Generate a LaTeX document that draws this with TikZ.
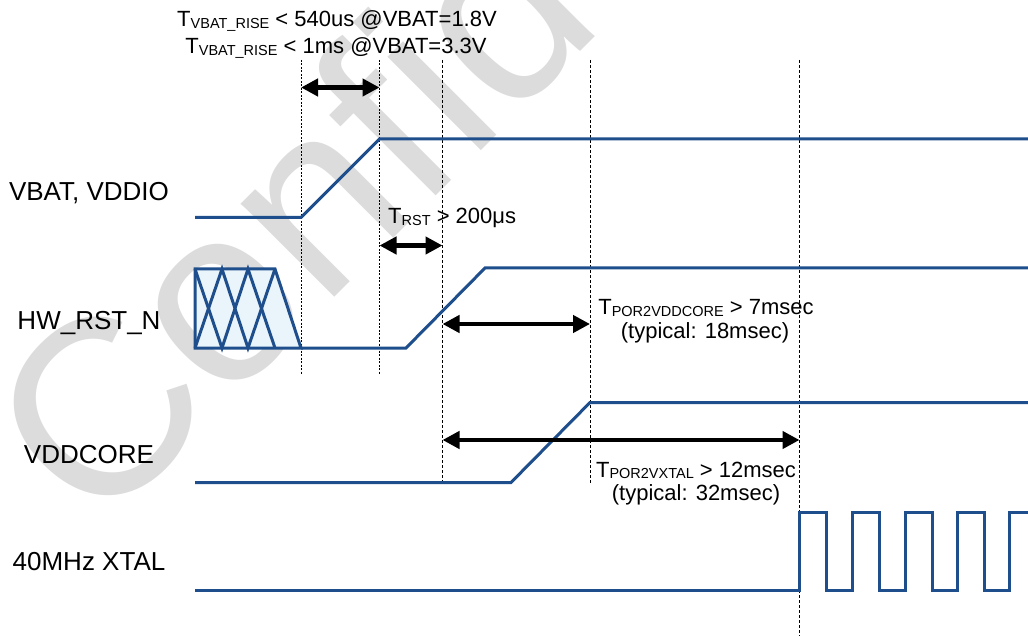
\documentclass[tikz,border=0pt]{standalone}
\usepackage{fontspec}
\setmainfont{Liberation Sans}
\usetikzlibrary{arrows.meta}
\definecolor{sig}{RGB}{31,78,140}
\definecolor{wm}{RGB}{220,220,220}
\definecolor{hatchfill}{RGB}{234,245,251}
\newcommand\subs[1]{\raisebox{-1.5pt}{\fontsize{14.5}{16}\selectfont #1}}
\begin{document}
\begin{tikzpicture}[x=1pt,y=-1pt,
  sigline/.style={draw=sig,line width=3pt,line join=miter},
  guide/.style={draw=black,line width=0.9pt,dash pattern=on 3pt off 2pt},
  fineguide/.style={draw=black,line width=0.7pt,dash pattern=on 2pt off 1.5pt},
  dur/.style={line width=4.5pt,{Triangle[length=17pt,width=17pt]}-{Triangle[length=17pt,width=17pt]}},
  lbl/.style={font=\fontsize{26}{30}\selectfont,anchor=base,inner sep=0pt},
  tim/.style={font=\fontsize{22}{26}\selectfont,anchor=base,inner sep=0pt},
  wmtext/.style={text=wm,font=\fontsize{250}{250}\selectfont,rotate=45,anchor=base west,inner sep=0pt}]
\useasboundingbox (0,0) rectangle (1028,636);
\begin{scope}
\clip (0,0) rectangle (1028,636);
\node[wmtext] (wmark) at (96,536) {Confidential};
\end{scope}

% guide lines
\coordinate (g1t) at (301,60);   \coordinate (g1b) at (301,375);
\coordinate (g2t) at (379.5,60); \coordinate (g2b) at (379.5,375);
\coordinate (g3t) at (442.5,60); \coordinate (g3b) at (442.5,483);
\coordinate (g4t) at (590,60);   \coordinate (g4b) at (590,483);
\coordinate (g5t) at (799.5,60); \coordinate (g5b) at (799.5,636);
\draw[fineguide] (g1t) -- (g1b);
\draw[fineguide] (g2t) -- (g2b);
\draw[guide] (g3t) -- (g3b);
\draw[guide] (g4t) -- (g4b);
\draw[guide] (g5t) -- (g5b);

% signal labels
\node[lbl] (lvbat) at (89,201) {VBAT, VDDIO};
\node[lbl] (lrst)  at (89,330) {HW\_RST\_N};
\node[lbl] (lcore) at (89,463) {VDDCORE};
\node[lbl] (lxtal) at (89,570) {40MHz XTAL};

% VBAT
\draw[sigline] (195,217.5) -- (301,217.5) -- (379.5,139) -- (1030,139);
% HW_RST_N
\fill[hatchfill] (195,269) -- (275,269) -- (301,348) -- (195,348) -- cycle;
\draw[sigline] (195,348) -- (195,269) -- (275,269) -- (301,348) -- cycle;
\draw[sigline] (195,348) -- (222,269) -- (248,348) -- (275,269);
\draw[sigline] (195,269) -- (222,348) -- (248,269) -- (275,348);
\draw[sigline] (301,348) -- (406,348) -- (485,268) -- (1030,268);
% VDDCORE
\draw[sigline] (195,482.5) -- (511,482.5) -- (590,402.5) -- (1030,402.5);
% XTAL
\draw[sigline] (195,590) -- (799.5,590) -- (799.5,512) -- (826,512) -- (826,590)
  -- (852.5,590) -- (852.5,512) -- (879,512) -- (879,590)
  -- (905,590) -- (905,512) -- (932,512) -- (932,590)
  -- (957.5,590) -- (957.5,512) -- (984,512) -- (984,590)
  -- (1009.5,590) -- (1009.5,512) -- (1030,512);

% durations
\coordinate (a1l) at (301,87.5);   \coordinate (a1r) at (379.5,87.5);
\coordinate (a2l) at (379.5,245.5); \coordinate (a2r) at (442.5,245.5);
\coordinate (a3l) at (442.5,324);  \coordinate (a3r) at (590,324);
\coordinate (a4l) at (442.5,440);  \coordinate (a4r) at (799.5,440);
\draw[dur] (a1l) -- (a1r);
\draw[dur] (a2l) -- (a2r);
\draw[dur] (a3l) -- (a3r);
\draw[dur] (a4l) -- (a4r);

% timing texts
\node[tim] (t1a) at (337,27) {T\subs{VBAT\_RISE} < 540us @VBAT=1.8V};
\node[tim] (t1b) at (336,54) {T\subs{VBAT\_RISE} < 1ms @VBAT=3.3V};
\node[tim,anchor=base west] (t2) at (388,224) {T\subs{RST} > 200μs};
\node[tim] (t3a) at (706,315) {T\subs{POR2VDDCORE} > 7msec};
\node[tim] (t3b) at (705,338) {(typical: 18msec)};
\node[tim] (t4a) at (696,477) {T\subs{POR2VXTAL} > 12msec};
\node[tim] (t4b) at (696,500) {(typical: 32msec)};
\end{tikzpicture}
\end{document}
